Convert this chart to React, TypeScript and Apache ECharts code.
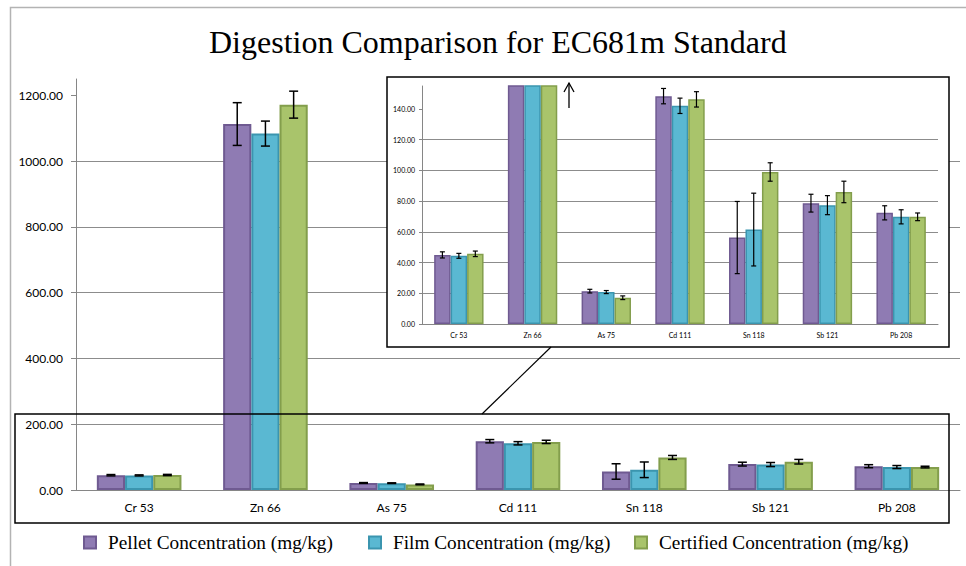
import React, { useEffect, useRef } from "react";
import * as echarts from "echarts";

const categories = ["Cr 53", "Zn 66", "As 75", "Cd 111", "Sn 118", "Sb 121", "Pb 208"];
const pellet = [45.0, 1113, 21.4, 148.4, 56.3, 78.7, 72.4];
const film = [44.4, 1084, 20.8, 142.1, 61.5, 77.4, 69.8];
const certified = [45.7, 1172, 17.1, 146.3, 99.0, 86.0, 69.8];
const pelletErr = [2.0, 65, 1.2, 5.0, 23.5, 5.8, 4.6];
const filmErr = [1.6, 38, 1.0, 5.0, 23.7, 6.2, 4.6];
const certifiedErr = [1.8, 41, 1.2, 5.0, 6.0, 7.0, 2.5];
const mainTicks = [0, 200, 400, 600, 800, 1000, 1200];
const insetTicks = [0, 20, 40, 60, 80, 100, 120, 140];
const seriesNames = [
  "Pellet Concentration (mg/kg)",
  "Film Concentration (mg/kg)",
  "Certified Concentration (mg/kg)",
];

const FILLS = ["#8f7bb3", "#5ab8d2", "#a9c46b"];
const BORDERS = ["#6f5a91", "#3b95af", "#839e4c"];
const GAP = 0.33;
const LEGEND_LEFT = [83, 368, 634];

export default function App() {
  const ref = useRef<HTMLDivElement>(null);
  useEffect(() => {
    if (!ref.current) return;
    const chart = echarts.init(ref.current, null, { renderer: "svg" });
    const values = [pellet, film, certified];
    const errs = [pelletErr, filmErr, certifiedErr];
    const sansFont = "Lato";

    const barSeries = (k: number, axisIdx: number, z: number, bw: number) => ({
      name: seriesNames[k],
      type: "bar",
      xAxisIndex: axisIdx,
      yAxisIndex: axisIdx,
      data: values[k],
      barGap: "0%",
      barCategoryGap: GAP * 100 + "%",
      z,
      clip: true,
      itemStyle: { color: FILLS[k], borderColor: BORDERS[k], borderWidth: bw },
      emphasis: { disabled: true },
    });

    const errSeries = (k: number, axisIdx: number, z: number, capW: number, lw: number) => ({
      name: "err" + axisIdx + "_" + k,
      type: "custom",
      xAxisIndex: axisIdx,
      yAxisIndex: axisIdx,
      z,
      data: categories.map((_, i) => [i, values[k][i], errs[k][i]]),
      renderItem: (params: any, api: any) => {
        const i = api.value(0);
        const v = api.value(1);
        const e = api.value(2);
        const cs = params.coordSys;
        const cw = api.size([1, 0])[0];
        const groupW = cw * (1 - GAP);
        const bw = groupW / 3;
        const base = api.coord([i, v]);
        const x = base[0] - groupW / 2 + bw * (k + 0.5);
        const top = api.coord([i, v + e])[1];
        const bot = api.coord([i, v - e])[1];
        if (top < cs.y - 1) return null;
        const style = { stroke: "#000", lineWidth: lw };
        return {
          type: "group",
          children: [
            { type: "line", shape: { x1: x, y1: top, x2: x, y2: bot }, style },
            { type: "line", shape: { x1: x - capW / 2, y1: top, x2: x + capW / 2, y2: top }, style },
            { type: "line", shape: { x1: x - capW / 2, y1: bot, x2: x + capW / 2, y2: bot }, style },
          ],
        };
      },
    });

    const option: any = {
      animation: false,
      backgroundColor: "#ffffff",
      title: {
        text: "Digestion Comparison for EC681m Standard",
        left: 204,
        top: 21,
        textStyle: {
          fontFamily: "Liberation Serif",
          fontSize: 32,
          fontWeight: "normal",
          color: "#000",
        },
      },
      legend: seriesNames.map((n, k) => ({
        data: [n],
        left: LEGEND_LEFT[k],
        top: 533,
        padding: 0,
        icon: "rect",
        itemWidth: 12,
        itemHeight: 12,
        textStyle: {
          fontFamily: "Liberation Serif",
          fontSize: 19.3,
          color: "#000",
          padding: [0, 0, 0, 7],
        },
      })),
      grid: [
        { left: 76, right: 6, top: 79, bottom: 76 },
        { left: 422, right: 28, top: 86, bottom: 242 },
      ],
      xAxis: [
        {
          type: "category",
          gridIndex: 0,
          data: categories,
          z: 0,
          axisLine: { lineStyle: { color: "#868686", width: 1 } },
          axisTick: { length: 5, lineStyle: { color: "#868686" } },
          axisLabel: { color: "#000", fontFamily: sansFont, fontSize: 12, margin: 11 },
        },
        {
          type: "category",
          gridIndex: 1,
          data: categories,
          z: 4,
          axisLine: { lineStyle: { color: "#868686", width: 1 } },
          axisTick: { length: 3, lineStyle: { color: "#868686" } },
          axisLabel: { color: "#000", fontFamily: sansFont, fontSize: 7, margin: 7 },
        },
      ],
      yAxis: [
        {
          type: "value",
          gridIndex: 0,
          min: 0,
          max: 1250,
          interval: 200,
          z: 0,
          axisLine: { show: true, lineStyle: { color: "#868686", width: 1 } },
          axisTick: { show: true, length: 5, lineStyle: { color: "#868686" }, customValues: mainTicks },
          axisLabel: {
            color: "#000",
            fontFamily: sansFont,
            fontSize: 12,
            margin: 13,
            customValues: mainTicks,
            formatter: (v: number) => v.toFixed(2),
          },
          splitLine: { show: true, showMaxLine: false, lineStyle: { color: "#8c8c8c", width: 1 } },
        },
        {
          type: "value",
          gridIndex: 1,
          min: 0,
          max: 155,
          interval: 20,
          z: 4,
          axisLine: { show: true, lineStyle: { color: "#868686", width: 1 } },
          axisTick: { show: true, length: 3, lineStyle: { color: "#868686" }, customValues: insetTicks },
          axisLabel: {
            color: "#000",
            fontFamily: sansFont,
            fontSize: 7,
            margin: 7,
            customValues: insetTicks,
            formatter: (v: number) => v.toFixed(2),
          },
          splitLine: { show: true, showMaxLine: false, lineStyle: { color: "#8c8c8c", width: 1 } },
        },
      ],
      graphic: [
        {
          type: "rect",
          z: 1,
          shape: { x: 10.5, y: 7.5, width: 1000, height: 700 },
          style: { fill: null, stroke: "#b3b3b3", lineWidth: 1.5 },
          silent: true,
        },
        {
          type: "rect",
          z: 3,
          shape: { x: 387, y: 77, width: 562, height: 270 },
          style: { fill: "#ffffff", stroke: "#000", lineWidth: 1.5 },
          silent: true,
        },
        {
          type: "rect",
          z: 9,
          shape: { x: 15, y: 414, width: 934, height: 109 },
          style: { fill: null, stroke: "#000", lineWidth: 1.5 },
          silent: true,
        },
        {
          type: "line",
          z: 9,
          shape: { x1: 482, y1: 414, x2: 551, y2: 347 },
          style: { stroke: "#000", lineWidth: 1.2 },
          silent: true,
        },
        {
          type: "line",
          z: 9,
          shape: { x1: 569, y1: 108, x2: 569, y2: 83 },
          style: { stroke: "#000", lineWidth: 1.3 },
          silent: true,
        },
        {
          type: "polyline",
          z: 9,
          shape: { points: [[564, 92], [569, 83], [574, 92]] },
          style: { stroke: "#000", lineWidth: 1.3, fill: null },
          silent: true,
        },
      ],
      series: [
        barSeries(0, 0, 2, 2),
        barSeries(1, 0, 2, 2),
        barSeries(2, 0, 2, 2),
        errSeries(0, 0, 2.5, 9, 1.5),
        errSeries(1, 0, 2.5, 9, 1.5),
        errSeries(2, 0, 2.5, 9, 1.5),
        barSeries(0, 1, 5, 1.5),
        barSeries(1, 1, 5, 1.5),
        barSeries(2, 1, 5, 1.5),
        errSeries(0, 1, 6, 5, 1.2),
        errSeries(1, 1, 6, 5, 1.2),
        errSeries(2, 1, 6, 5, 1.2),
      ],
    };
    chart.setOption(option);
    return () => chart.dispose();
  }, []);
  return (
    <div
      ref={ref}
      style={{ position: "fixed", left: 0, top: 0, width: 966, height: 566, background: "#fff" }}
    />
  );
}
